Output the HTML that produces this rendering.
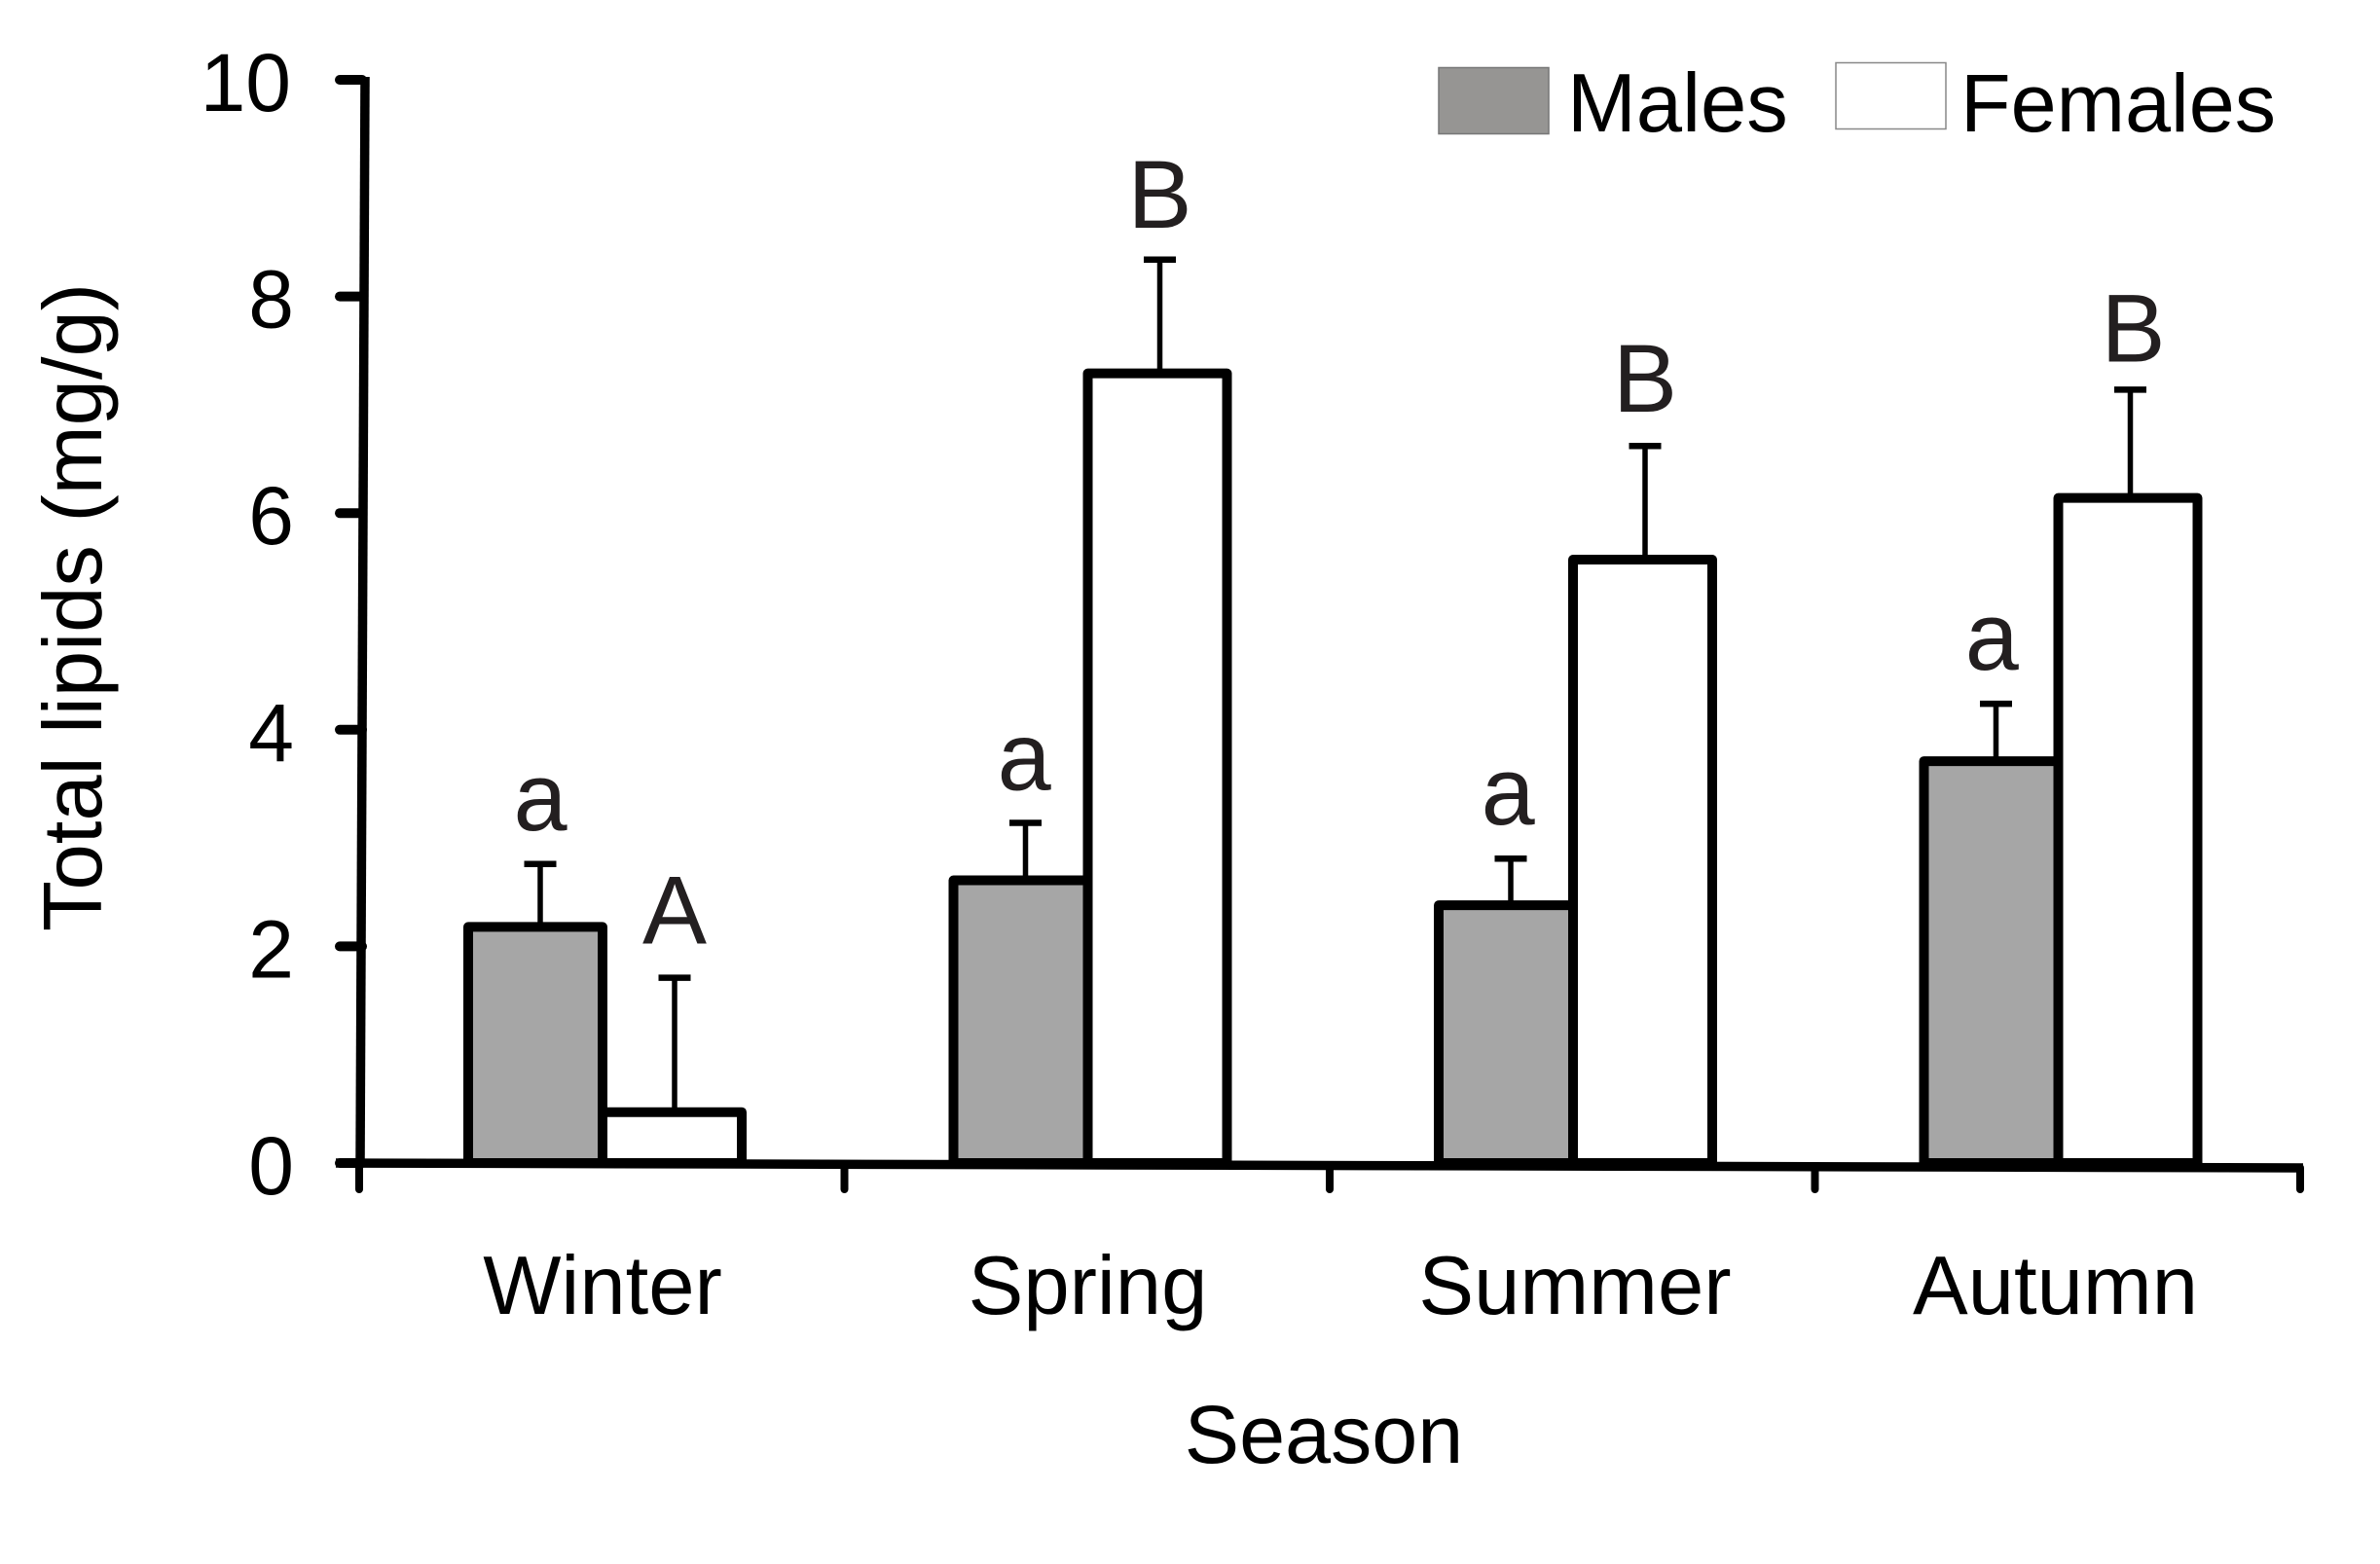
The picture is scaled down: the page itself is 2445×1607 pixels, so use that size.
<!DOCTYPE html>
<html lang="en">
<head>
<meta charset="utf-8">
<title>Total lipids by season</title>
<style>
html,body{margin:0;padding:0;background:#fff;width:2445px;height:1607px;overflow:hidden}
svg{display:block}
text{font-family:"Liberation Sans",Arial,sans-serif;fill:#000}
</style>
</head>
<body>
<svg id="chart" xmlns="http://www.w3.org/2000/svg" width="2445" height="1607" viewBox="0 0 2445 1607">
  <rect x="0" y="0" width="2445" height="1607" fill="#fff"/>
  <g id="bars"></g>
  <g id="axes"></g>
  <g id="labels"></g>
  <text font-size="85" transform="translate(104,957) rotate(-90)">Total lipids (mg/g)</text>
  <text font-size="84.5" x="1360" y="1503" text-anchor="middle">Season</text>
  <g>
    <g>
      <rect x="1478" y="69.5" width="113" height="68" fill="#969593" stroke="#777" stroke-width="1.5"/>
      <text font-size="85" x="1610" y="135">Males</text>
    </g>
    <g>
      <rect x="1886" y="64.5" width="113" height="68" fill="#fff" stroke="#888" stroke-width="1.5"/>
      <text font-size="84.5" x="2014" y="135">Females</text>
    </g>
  </g>
</svg>
<script>
const categories = ['Winter', 'Spring', 'Summer', 'Autumn'];
const maleValues = [2.18, 2.61, 2.38, 3.71];
const femaleValues = [0.47, 7.29, 5.57, 6.14];
const maleErrorTops = [2.76, 3.14, 2.81, 4.24];
const femaleErrorTops = [1.71, 8.34, 6.62, 7.14];
const maleLetters = ['a', 'a', 'a', 'a'];
const femaleLetters = ['A', 'B', 'B', 'B'];
const yTickLabels = [0, 2, 4, 6, 8, 10];

const NS = 'http://www.w3.org/2000/svg';
const barsLayer = document.getElementById('bars');
const axesLayer = document.getElementById('axes');
const labelsLayer = document.getElementById('labels');

function yScale(v) { return 1195 - v * 111.3; }
function groupX(i) { return 369 + i * 498.5; }
function axisY(x) { return 1195 + (x - 345) * 5 / 2018; }
function make(tag, attrs, parent) {
  const el = document.createElementNS(NS, tag);
  for (const k in attrs) el.setAttribute(k, attrs[k]);
  parent.appendChild(el);
  return el;
}

function drawBar(i, left, right, value, fill, series) {
  const el = make('path', {
    d: 'M' + left + ' ' + yScale(0) + 'V' + yScale(value) + 'H' + right + 'V' + yScale(0) + 'Z',
    fill: fill, stroke: '#000', 'stroke-width': 10, 'stroke-linejoin': 'round'
  }, barsLayer);
  
  
}

function drawError(i, cx, value, top, series) {
  const stem = make('line', { x1: cx, x2: cx, y1: yScale(value) + 4, y2: yScale(top), stroke: '#000', 'stroke-width': 5.5 }, barsLayer);
  
  
  const cap = make('line', { x1: cx - 16.5, x2: cx + 16.5, y1: yScale(top), y2: yScale(top), stroke: '#000', 'stroke-width': 6.5 }, barsLayer);
  
  
}

function drawLetter(i, cx, top, letter, series, nudge) {
  const el = make('text', { x: cx, y: yScale(top) - 35 + nudge, 'font-size': 99, 'text-anchor': 'middle' }, labelsLayer);
  el.style.fill = '#231f20';
  el.textContent = letter;
  
  
}

categories.forEach(function (cat, i) {
  const g = groupX(i);
  const maleLeft = g + 112, mid = g + 250, femaleRight = g + 393;
  const maleCx = g + 186, femaleCx = g + 324;
  drawBar(i, maleLeft, mid, maleValues[i], '#a6a6a6', 'male');
  drawBar(i, mid, femaleRight, femaleValues[i], '#fff', 'female');
  drawError(i, maleCx, maleValues[i], maleErrorTops[i], 'male');
  drawError(i, femaleCx, femaleValues[i], femaleErrorTops[i], 'female');
  drawLetter(i, maleCx - 1.4 * i, maleErrorTops[i], maleLetters[i], 'male', i === 1 ? 1 : 0);
  drawLetter(i, femaleCx + (i === 3 ? 3 : 0), femaleErrorTops[i], femaleLetters[i], 'female', i === 3 ? 6 : (i === 1 ? 2 : 0));

  const label = make('text', { x: mid - (i === 3 ? 3 : 0) + (i === 2 ? 2 : 0), y: 1350, 'font-size': 85, 'text-anchor': 'middle' }, labelsLayer);
  label.textContent = cat;
  
  
});

/* y axis */
const yAxis = make('line', { x1: 375, y1: 79, x2: 370, y2: 1198, stroke: '#000', 'stroke-width': 9.5 }, axesLayer);



yTickLabels.forEach(function (v) {
  const y = yScale(v);
  const tick = make('line', { x1: 349, x2: 372, y1: y, y2: y, stroke: '#000', 'stroke-width': 10, 'stroke-linecap': 'round' }, axesLayer);
  
  
  const label = make('text', { x: v === 10 ? 299 : 302, y: y + 32, 'font-size': 84, 'text-anchor': 'end' }, labelsLayer);
  label.textContent = String(v);
  
  
});

/* x axis */
const xAxis = make('line', { x1: 345, y1: axisY(345), x2: 2366, y2: axisY(2366), stroke: '#000', 'stroke-width': 9.5 }, axesLayer);



for (let i = 0; i <= categories.length; i++) {
  const x = groupX(i);
  const tick = make('line', { x1: x, x2: x, y1: axisY(x), y2: 1222, stroke: '#000', 'stroke-width': 8, 'stroke-linecap': 'round' }, axesLayer);
  
  
}
</script>
</body>
</html>
